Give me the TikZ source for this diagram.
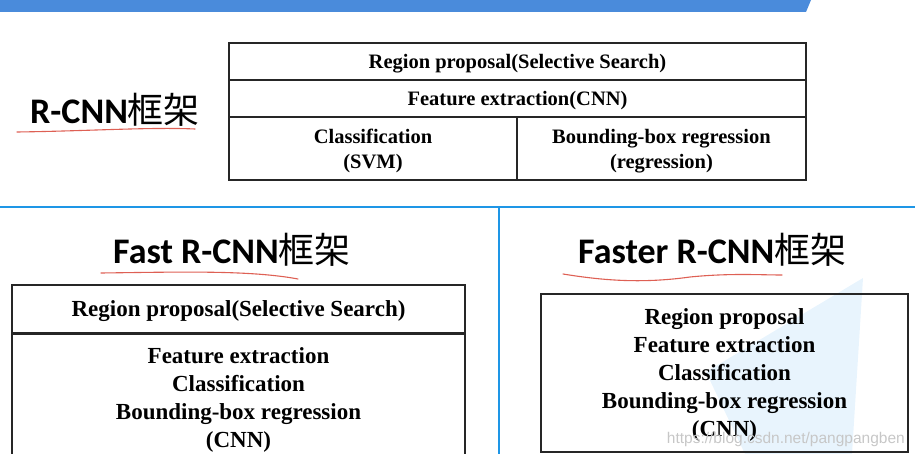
\documentclass[tikz,border=0pt]{standalone}
\usepackage{fontspec}
\setmainfont{Liberation Serif}
\newfontfamily\titlefont{Carlito}
\newfontfamily\cjk{Noto Sans CJK SC}
\newfontfamily\markfont{Liberation Sans}
\usetikzlibrary{positioning}

\definecolor{barblue}{RGB}{74,139,219}
\definecolor{lineblue}{RGB}{30,150,230}
\definecolor{paleblue}{RGB}{232,244,253}
\definecolor{penred}{RGB}{222,96,84}

\tikzset{
  cell/.style={draw=black!85, line width=1.1pt, inner sep=0pt, align=center, text depth=0pt,
    font=\bfseries\fontsize{20.5}{25}\selectfont},
  bigcell/.style={cell, font=\bfseries\fontsize{23}{28}\selectfont},
  title/.style={inner sep=0pt, anchor=base west, font=\titlefont\bfseries\fontsize{36}{42}\selectfont},
  redline/.style={penred, line width=1.1pt, line cap=round}
}

\begin{document}
\begin{tikzpicture}[x=1pt,y=-1pt]
    \useasboundingbox (0,0) rectangle (915,454);
    %background
    \fill[barblue] (0,0) -- (811,0) -- (806,12) -- (0,12) -- cycle;
    \fill[paleblue] (863,278) -- (706,372) -- (745,454) -- (852,454) -- cycle;
    \draw[lineblue, line width=2.2pt] (0,207) -- (915,207);
    \draw[lineblue, line width=2.2pt] (499,207) -- (499,454);
    %titles
    \node[title] (rcnn) at (30,124) {R-CNN{\cjk\mdseries 框架}};
    \node[title] (fast) at (113,264) {Fast R-CNN{\cjk\mdseries 框架}};
    \node[title] (faster) at (578,264) {Faster R-CNN{\cjk\mdseries 框架}};
    %underlines
    \draw[redline] (17,132) .. controls (90,131) and (150,127) .. (195,129);
    \draw[redline] (101,273) .. controls (180,272) and (250,270) .. (298,279);
    \draw[redline] (563,274) .. controls (600,280) and (640,284) .. (690,277)
                   .. controls (730,273) and (760,275) .. (782,275);
    %R-CNN table
    \node[cell, minimum width=577, minimum height=37] (rp) at (517.5,61.5) {Region proposal(Selective Search)};
    \node[cell, minimum width=577, minimum height=37] (fe) at (517.5,98.5) {Feature extraction(CNN)};
    \node[cell, minimum width=288, minimum height=63] (cls) at (373,148.5) {Classification\\(SVM)};
    \node[cell, minimum width=289, minimum height=63] (bbr) at (661.5,148.5) {Bounding-box regression\\(regression)};
    %Fast R-CNN table
    \node[bigcell, minimum width=453, minimum height=48] (fastrp) at (238.5,309) {Region proposal(Selective Search)};
    \node[bigcell, minimum width=453, minimum height=126, anchor=north] (fastrest) at (fastrp.south)
      {Feature extraction\\Classification\\Bounding-box regression\\(CNN)};
    %Faster R-CNN table
    \node[bigcell, minimum width=367, minimum height=158] (fasterall) at (724.5,373)
      {Region proposal\\Feature extraction\\Classification\\Bounding-box regression\\(CNN)};
    %watermark
    \node[anchor=base east, inner sep=0pt, text=black!22, font=\markfont\fontsize{15.5}{18}\selectfont]
      (mark) at (905,443) {https://blog.csdn.net/pangpangben};
\end{tikzpicture}
\end{document}
